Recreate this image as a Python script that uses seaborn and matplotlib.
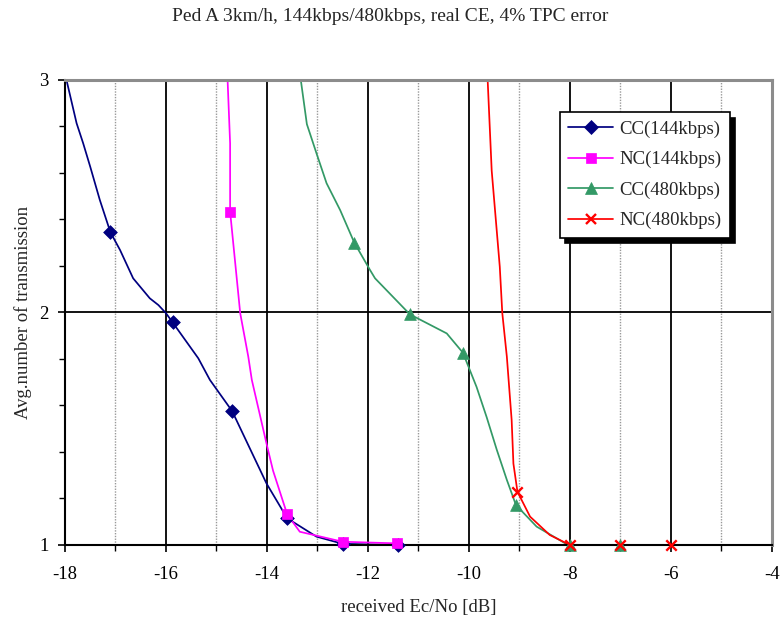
import matplotlib
matplotlib.use("Agg")
import matplotlib.pyplot as plt
from matplotlib.lines import Line2D
from matplotlib.ticker import MultipleLocator
import numpy as np
import pandas as pd
import seaborn as sns

# Curve traces (Ec/No in dB, average number of transmissions)
cc144_x = [-18.05, -17.97, -17.77, -17.64, -17.50, -17.31, -17.10, -16.91, -16.65, -16.32, -16.15, -16.00,
           -15.87, -15.36, -15.13, -14.69, -14.01, -13.60, -13.02, -12.50, -11.40]
cc144_y = [3.05, 3.00, 2.814, 2.728, 2.627, 2.484, 2.345, 2.269, 2.147, 2.061, 2.032, 1.997,
           1.958, 1.803, 1.710, 1.576, 1.265, 1.115, 1.036, 1.005, 1.000]
cc144_mx = [-17.10, -15.87, -14.69, -13.60, -12.50, -11.40]
cc144_my = [2.345, 1.958, 1.576, 1.115, 1.005, 1.000]

nc144_x = [-14.79, -14.78, -14.73, -14.73, -14.73, -14.53, -14.37, -14.30, -14.01, -13.88, -13.60, -13.35, -12.50, -11.42]
nc144_y = [3.05, 3.00, 2.728, 2.541, 2.434, 1.997, 1.810, 1.710, 1.437, 1.320, 1.132, 1.057, 1.014, 1.007]
nc144_mx = [-14.73, -13.60, -12.50, -11.42]
nc144_my = [2.434, 1.132, 1.014, 1.007]

cc480_x = [-13.35, -13.33, -13.21, -13.02, -12.82, -12.55, -12.27, -11.96, -11.86, -11.17, -10.44, -10.12,
           -9.85, -9.65, -9.45, -9.25, -9.07, -8.66, -8.07, -8.00, -7.00]
cc480_y = [3.05, 3.00, 2.810, 2.685, 2.556, 2.440, 2.300, 2.183, 2.147, 1.992, 1.910, 1.827,
           1.680, 1.550, 1.410, 1.280, 1.172, 1.079, 1.004, 1.000, 1.000]
cc480_mx = [-12.27, -11.17, -10.12, -9.07, -8.00, -7.00]
cc480_my = [2.300, 1.992, 1.827, 1.172, 1.000, 1.000]

nc480_x = [-9.64, -9.63, -9.55, -9.39, -9.34, -9.25, -9.155, -9.12, -9.04, -8.79, -8.40, -8.00, -7.50, -7.00, -6.00]
nc480_y = [3.05, 3.00, 2.610, 2.197, 1.997, 1.810, 1.538, 1.350, 1.229, 1.122, 1.043, 1.000, 0.996, 1.000, 1.000]
nc480_mx = [-9.04, -8.00, -7.00, -6.00]
nc480_my = [1.229, 1.000, 1.000, 1.000]

series = [
    ("CC(144kbps)", cc144_x, cc144_y, cc144_mx, cc144_my, "#000080", "D", 7.0),
    ("NC(144kbps)", nc144_x, nc144_y, nc144_mx, nc144_my, "#FF00FF", "s", 7.5),
    ("CC(480kbps)", cc480_x, cc480_y, cc480_mx, cc480_my, "#339966", "^", 8.5),
    ("NC(480kbps)", nc480_x, nc480_y, nc480_mx, nc480_my, "#FF0000", "x", 7.5),
]

sns.set_theme(style="white")
plt.rcParams["font.family"] = ["Liberation Serif", "DejaVu Serif"]
plt.rcParams["axes.unicode_minus"] = False

FS = 13.5

fig = plt.figure(figsize=(7.8, 6.22), dpi=100)
ax = fig.add_axes([0.0833, 0.1238, 0.9064, 0.7476])

# Grid: solid black at even dB, dotted gray at odd dB, one horizontal line at 2
for xv in range(-16, -4, 2):
    ax.axvline(xv, color="black", lw=1.3, zorder=1)
for xv in range(-17, -4, 2):
    ax.axvline(xv, color="#999999", lw=1.0, ls=(0, (1, 1)), zorder=1)
ax.axhline(2, color="black", lw=1.3, zorder=1)

handles = []
for i, (name, lx, ly, mx, my, col, mk, ms) in enumerate(series):
    line_df = pd.DataFrame({"x": lx, "y": ly})
    sns.lineplot(data=line_df, x="x", y="y", ax=ax, color=col, lw=1.25,
                 sort=False, estimator=None, zorder=3)
    mk_df = pd.DataFrame({"x": mx, "y": my})
    if mk == "x":
        sns.scatterplot(data=mk_df, x="x", y="y", ax=ax, color=col, marker="x",
                        s=ms ** 2, linewidth=1.7, zorder=7 + i, clip_on=False)
    else:
        sns.scatterplot(data=mk_df, x="x", y="y", ax=ax, color=col, marker=mk,
                        s=ms ** 2, edgecolor=col, linewidth=0.5, zorder=7 + i,
                        clip_on=False)
    handles.append(Line2D([], [], color=col, lw=1.25, marker=mk, markersize=ms * 0.95,
                          markeredgewidth=1.7 if mk == "x" else 0.5,
                          markerfacecolor=col, markeredgecolor=col, label=name))

ax.set_xlim(-18, -4)
ax.set_ylim(1, 3)
ax.xaxis.set_major_locator(MultipleLocator(2))
ax.xaxis.set_minor_locator(MultipleLocator(1))
ax.yaxis.set_major_locator(MultipleLocator(1))
ax.yaxis.set_minor_locator(MultipleLocator(0.2))
ax.tick_params(axis="both", which="both", direction="out", colors="black",
               labelsize=FS, bottom=True, left=True, top=False, right=False)
ax.tick_params(axis="both", which="major", length=5, width=1.2)
ax.tick_params(axis="both", which="minor", length=4, width=1.0)
ax.tick_params(axis="x", pad=10)
ax.tick_params(axis="y", pad=7)

for side in ("left", "bottom"):
    ax.spines[side].set_color("black")
    ax.spines[side].set_linewidth(1.5)
for side in ("top", "right"):
    ax.spines[side].set_color("#8c8c8c")
    ax.spines[side].set_linewidth(2.2)
for s in ax.spines.values():
    s.set_zorder(5)

ax.set_xlabel("received Ec/No [dB]", fontsize=FS, labelpad=12)
ax.set_ylabel("Avg.number of transmission", fontsize=FS, labelpad=5)
fig.text(0.5, 0.974, "Ped A 3km/h, 144kbps/480kbps, real CE, 4% TPC error",
         ha="center", va="center", fontsize=14)

leg = ax.legend(handles=handles, loc="upper left", bbox_to_anchor=(0.700, 0.931),
                fontsize=FS, frameon=True, fancybox=False, edgecolor="black",
                framealpha=1, borderpad=0.45, labelspacing=0.70, handlelength=2.4,
                handletextpad=0.32, borderaxespad=0,
                shadow={"color": "black", "alpha": 1, "ox": 4, "oy": -4})
leg.get_frame().set_linewidth(1.2)
leg.set_zorder(12)

fig.savefig("out.png", dpi=100)
